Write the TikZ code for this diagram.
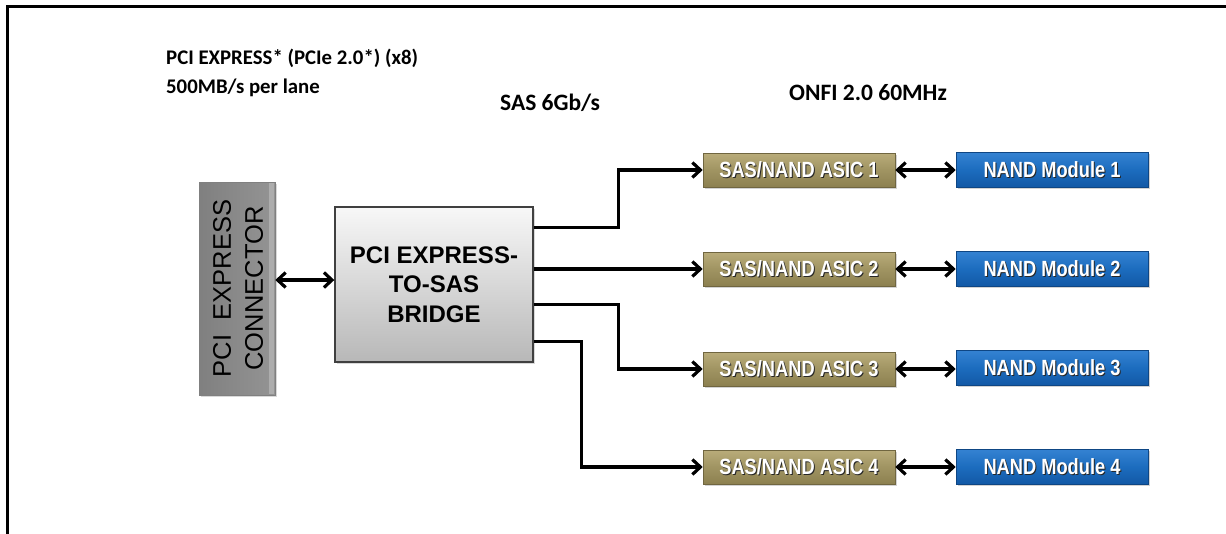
\documentclass[tikz,border=0pt]{standalone}
\usepackage{fontspec}
\setmainfont{Liberation Sans}
\newfontfamily\carl{Carlito}
\usetikzlibrary{arrows.meta,calc,shadows}
\definecolor{asictop}{RGB}{185,172,122}
\definecolor{asicmid}{RGB}{160,148,98}
\definecolor{asicbot}{RGB}{140,128,80}
\definecolor{nandtop}{RGB}{52,130,210}
\definecolor{nandmid}{RGB}{28,108,190}
\definecolor{nandbot}{RGB}{18,88,165}
\newcommand\shtxt[1]{\scalebox{0.83}[1]{\leavevmode\rlap{\raisebox{-1.2pt}{\kern1.2pt\textcolor{black!85}{#1}}}\textcolor{white}{#1}}}
\tikzset{
  arr/.style={line width=3.2pt,-{Straight Barb[length=8pt,width=15pt]}},
  darr/.style={line width=3.2pt,{Straight Barb[length=8pt,width=15pt]}-{Straight Barb[length=8pt,width=15pt]}},
  asicbox/.style={draw=asicbot!80!black,line width=0.6pt,minimum width=192pt,minimum height=34pt,
    top color=asictop,bottom color=asicbot,middle color=asicmid,
    drop shadow={shadow xshift=1.5pt,shadow yshift=-1.5pt,opacity=0.35},
    font=\bfseries\fontsize{22}{24}\selectfont,inner sep=0pt},
  nandbox/.style={draw=nandbot!80!black,line width=0.6pt,minimum width=192pt,minimum height=35pt,
    top color=nandtop,bottom color=nandbot,middle color=nandmid,
    drop shadow={shadow xshift=1.5pt,shadow yshift=-1.5pt,opacity=0.35},
    font=\bfseries\fontsize{22}{24}\selectfont,inner sep=0pt},
  lbl/.style={font=\carl\bfseries\fontsize{23.5}{28}\selectfont,inner sep=0pt},
}
\begin{document}
\begin{tikzpicture}[x=1pt,y=-1pt]
\useasboundingbox (0,0) rectangle (1226,533);
\draw[line width=3pt] (7,534) -- (7,6.5) -- (1227,6.5);

% titles
\node[font=\carl\bfseries\fontsize{20.8}{29}\selectfont,anchor=base west,inner sep=0pt] (t1) at (166,64) {PCI EXPRESS* (PCIe 2.0*) (x8)};
\node[font=\carl\bfseries\fontsize{20.8}{29}\selectfont,anchor=base west,inner sep=0pt] (t2) at (166,93) {500MB/s per lane};
\node[lbl,anchor=base west] (t3) at (500,110) {SAS 6Gb/s};
\node[lbl,anchor=base west] (t4) at (789,100) {ONFI 2.0 60MHz};

% connector
\node[draw=black!50,line width=0.6pt,left color=black!50,right color=black!42,middle color=black!46,
  minimum width=76pt,minimum height=213pt,inner sep=0pt,
  drop shadow={shadow xshift=1.5pt,shadow yshift=-1.5pt,opacity=0.3}] (conn) at (237,288.5) {};
\fill[black!32] ($(conn.north east)+(-6,1)$) rectangle ($(conn.south east)+(-1,-1)$);
\node[rotate=90,align=center,font=\fontsize{25.5}{32}\selectfont,inner sep=0pt] (connt) at (238,288.5) {PCI\ \ EXPRESS\\CONNECTOR};

% bridge
\node[draw=black!75,line width=1.4pt,top color=black!3,bottom color=black!28,
  minimum width=198pt,minimum height=155pt,inner sep=0pt,
  drop shadow={shadow xshift=1.5pt,shadow yshift=-1.5pt,opacity=0.3},
  align=center,font=\bfseries\fontsize{24}{29.5}\selectfont] (bridge) at (434,284.5) {PCI EXPRESS-\\TO-SAS\\BRIDGE};

% ASICs
\node[asicbox] (a1) at (799,170) {\shtxt{SAS/NAND ASIC 1}};
\node[asicbox] (a2) at (799,269) {\shtxt{SAS/NAND ASIC 2}};
\node[asicbox] (a3) at (799,369) {\shtxt{SAS/NAND ASIC 3}};
\node[asicbox] (a4) at (799,467) {\shtxt{SAS/NAND ASIC 4}};

% NAND modules
\node[nandbox] (n1) at (1052,170) {\shtxt{NAND Module 1}};
\node[nandbox] (n2) at (1052,269) {\shtxt{NAND Module 2}};
\node[nandbox] (n3) at (1052,368) {\shtxt{NAND Module 3}};
\node[nandbox] (n4) at (1052,467) {\shtxt{NAND Module 4}};

% connections
\draw[darr] (conn.east |- 0,280) -- (bridge.west |- 0,280);
\coordinate (o1) at ($(bridge.north east)+(0,21)$);
\coordinate (o3) at ($(bridge.north east)+(0,98)$);
\coordinate (o4) at ($(bridge.north east)+(0,135)$);
\draw[arr] (o1) -- ++(85,0) |- (a1.west);
\draw[arr] (bridge.east |- a2.west) -- (a2.west);
\draw[arr] (o3) -- ++(85,0) |- (a3.west);
\draw[arr] (o4) -- ++(48,0) |- (a4.west);
\foreach \i in {1,2,3,4}{\draw[darr] (a\i.east) -- (n\i.west |- a\i.east);}
\end{tikzpicture}
\end{document}
